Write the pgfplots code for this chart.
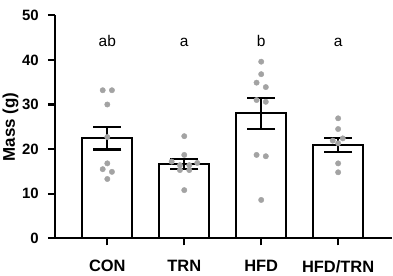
\documentclass[border=0pt]{standalone}
\usepackage{fontspec}
\setmainfont{Liberation Sans}
\usepackage{pgfplots}
\pgfplotsset{compat=1.18}
\definecolor{dotgray}{RGB}{163,163,163}
\begin{document}
\begin{tikzpicture}
\useasboundingbox (-55bp,-37.7bp) rectangle (338bp,238.3bp);
\begin{axis}[
  at={(0,0)}, anchor=south west,
  scale only axis, width=337bp, height=223bp,
  xmin=-0.68, xmax=3.70, ymin=0, ymax=50,
  axis x line=bottom, axis y line=left,
  axis line style={-, line width=2.1bp, black},
  xtick={0,1,2,3}, xticklabels={CON,TRN,HFD,HFD/TRN},
  ytick={0,10,20,30,40,50},
  tick align=outside, major tick length=7bp,
  tick style={line width=2.1bp, black},
  /pgf/number format/assume math mode=true,
  xticklabel style={font=\fontsize{16.5}{18}\selectfont\bfseries, inner sep=0pt, yshift=-15bp},
  yticklabel style={font=\fontsize{15}{17}\selectfont\bfseries, inner sep=0pt, xshift=-9bp},
  ylabel={Mass (g)},
  ylabel style={font=\fontsize{17}{19}\selectfont\bfseries, at={(axis description cs:-0.1187,0.5)}, anchor=base},
  clip=false,
]
\addplot[ybar, bar width=50bp, fill=white, draw=black, line width=2.1bp] coordinates {(0,22.4) (1,16.6) (2,28.0) (3,20.9)};
\addplot[only marks, mark=*, mark size=2.7bp, dotgray, mark options={draw=dotgray, fill=dotgray}] coordinates {
(-0.06,33.2) (0.06,33.2) (0,30.0) (0,22.7) (0,16.8) (-0.06,15.5) (0.06,14.9) (0,13.3)
(1,22.9) (1,18.7) (0.836,17.2) (1.169,16.9) (0.944,16.4) (1.065,16.4) (0.944,15.3) (1.065,15.3) (1,10.8)
(2,39.6) (2,36.8) (1.94,34.9) (2.06,33.9) (1.94,31.0) (2.06,30.6) (1.94,18.7) (2.06,18.4) (2,8.6)
(3,26.9) (3,24.5) (2.93,21.9) (3.06,22.4) (3,21.3) (3,16.8) (3,14.8)
};
\addplot[draw=none, mark=none, line width=2.1bp, black,
  error bars/.cd, y dir=both, y explicit,
  error bar style={line width=2.1bp, black},
  error mark options={rotate=90, line width=2.1bp, black, mark size=14bp}]
  coordinates {(0,22.4) +- (0,2.5) (1,16.6) +- (0,1.1) (2,28.0) +- (0,3.45) (3,20.9) +- (0,1.5)};
\node[font=\fontsize{15.5}{17}\selectfont, anchor=base] at (axis cs:0,43) {ab};
\node[font=\fontsize{15.5}{17}\selectfont, anchor=base] at (axis cs:1,43) {a};
\node[font=\fontsize{15.5}{17}\selectfont, anchor=base] at (axis cs:2,43) {b};
\node[font=\fontsize{15.5}{17}\selectfont, anchor=base] at (axis cs:3,43) {a};
\end{axis}
\end{tikzpicture}
\end{document}
